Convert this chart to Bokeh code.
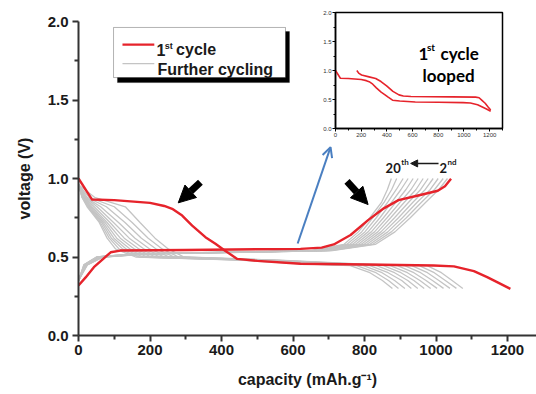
from bokeh.plotting import figure
from bokeh.models import (Label, Arrow, NormalHead, OpenHead, BoxAnnotation,
                          FixedTicker, NumeralTickFormatter)
from bokeh.embed import file_html
from bokeh.resources import INLINE

# ---------------- data ----------------
x_ticks = [0, 200, 400, 600, 800, 1000, 1200]
x_minor = [100, 300, 500, 700, 900, 1100, 1300]
y_ticks = [0.0, 0.5, 1.0, 1.5, 2.0]
y_minor = [0.25, 0.75, 1.25, 1.75]

# first cycle (red)
red_dis_cap = [0, 38, 100, 200, 240, 262, 290, 318, 355, 383, 410, 444, 500, 621, 800, 993, 1050, 1106, 1143, 1175, 1208]
red_dis_v = [1.0, 0.866, 0.862, 0.845, 0.825, 0.807, 0.764, 0.70, 0.626, 0.584, 0.54, 0.488, 0.475, 0.457, 0.452, 0.446, 0.44, 0.41, 0.372, 0.335, 0.297]
red_chg_cap = [0, 20, 43, 70, 90, 117, 300, 621, 680, 714, 761, 810, 854, 895, 947, 1005, 1025, 1042]
red_chg_v = [0.318, 0.37, 0.435, 0.49, 0.53, 0.541, 0.545, 0.552, 0.56, 0.58, 0.64, 0.735, 0.81, 0.862, 0.89, 0.922, 0.95, 0.998]

# further cycling (grey, 2nd ... 20th): capacities at common voltage levels
gray_dis_v = [0.96, 0.88, 0.82, 0.72, 0.62, 0.55, 0.50, 0.48, 0.455, 0.445, 0.40, 0.35, 0.30]
dis_c02 = [0, 45, 131, 172, 214, 252, 295, 560, 800, 975, 1015, 1045, 1075]
dis_c03 = [0, 30, 100, 150, 195, 235, 280, 550, 785, 953, 995, 1026, 1057]
dis_c04 = [0, 24, 78, 130, 176, 218, 268, 540, 770, 932, 976, 1008, 1039]
dis_c05 = [0, 20, 62, 112, 158, 200, 255, 530, 755, 912, 957, 990, 1021]
dis_c06 = [0, 18, 52, 98, 142, 184, 242, 520, 740, 892, 938, 972, 1003]
dis_c08 = [0, 16, 44, 88, 128, 170, 230, 510, 725, 872, 920, 955, 985]
dis_c10 = [0, 14, 38, 80, 117, 157, 218, 500, 710, 853, 902, 938, 967]
dis_c12 = [0, 13, 34, 74, 107, 145, 206, 490, 695, 834, 884, 921, 949]
dis_c14 = [0, 12, 31, 69, 99, 134, 194, 480, 680, 815, 866, 904, 931]
dis_c16 = [0, 11, 28, 65, 92, 124, 182, 470, 665, 797, 849, 884, 913]
dis_c18 = [0, 10, 26, 61, 86, 114, 170, 460, 650, 778, 832, 867, 895]
dis_c20 = [0, 10, 24, 58, 80, 104, 160, 450, 640, 760, 815, 850, 878]

gray_chg_v = [0.35, 0.45, 0.50, 0.52, 0.54, 0.58, 0.66, 0.75, 0.85, 0.93, 1.0]
chg_c02 = [0, 25, 70, 200, 710, 830, 885, 928, 972, 1008, 1032]
chg_c03 = [0, 24, 68, 195, 705, 822, 875, 917, 960, 996, 1020]
chg_c04 = [0, 23, 66, 190, 700, 814, 865, 906, 948, 984, 1006]
chg_c05 = [0, 22, 64, 185, 694, 806, 855, 895, 936, 970, 992]
chg_c06 = [0, 21, 62, 180, 688, 798, 846, 884, 924, 957, 978]
chg_c08 = [0, 20, 60, 175, 682, 790, 837, 873, 912, 944, 964]
chg_c10 = [0, 19, 58, 170, 676, 782, 828, 863, 900, 930, 950]
chg_c12 = [0, 18, 56, 165, 670, 774, 819, 853, 888, 916, 936]
chg_c14 = [0, 17, 54, 160, 664, 766, 810, 843, 876, 902, 922]
chg_c16 = [0, 16, 52, 155, 658, 758, 801, 833, 865, 889, 908]
chg_c18 = [0, 15, 51, 152, 654, 750, 792, 823, 855, 876, 890]
chg_c20 = [0, 15, 50, 150, 650, 742, 783, 815, 848, 864, 875]

gray_dis = [dis_c02, dis_c03, dis_c04, dis_c05, dis_c06, dis_c08, dis_c10, dis_c12, dis_c14, dis_c16, dis_c18, dis_c20]
gray_chg = [chg_c02, chg_c03, chg_c04, chg_c05, chg_c06, chg_c08, chg_c10, chg_c12, chg_c14, chg_c16, chg_c18, chg_c20]

RED = "#e6232b"
GRAY = "#c4c4c4"
BLUE = "#4a7fc1"
INK = "#1a1a1a"
FONT = "Liberation Sans"

# ---------------- main figure ----------------
p = figure(width=536, height=394, x_range=(0, 1281), y_range=(0, 2.0),
           output_backend="svg", toolbar_location=None,
           min_border_left=78, min_border_right=0, min_border_top=21, min_border_bottom=59)
p.outline_line_color = None
p.grid.visible = False
p.background_fill_color = "white"
p.border_fill_color = "white"

p.xaxis.ticker = FixedTicker(ticks=x_ticks, minor_ticks=x_minor)
p.yaxis.ticker = FixedTicker(ticks=y_ticks, minor_ticks=y_minor)
p.yaxis.formatter = NumeralTickFormatter(format="0.0")
p.xaxis.axis_label = "capacity (mAh.g\u207b\u00b9)"
p.yaxis.axis_label = "voltage (V)"
for ax in (p.xaxis, p.yaxis):
    ax.axis_line_width = 2
    ax.axis_line_color = "#333333"
    ax.major_tick_line_width = 2
    ax.major_tick_line_color = "#333333"
    ax.minor_tick_line_width = 2
    ax.minor_tick_line_color = "#333333"
    ax.major_tick_out = 6
    ax.major_tick_in = 0
    ax.minor_tick_out = 4
    ax.minor_tick_in = 0
    ax.major_label_text_font = FONT
    ax.major_label_text_font_style = "bold"
    ax.major_label_text_font_size = "15px"
    ax.major_label_text_color = INK
    ax.axis_label_text_font = FONT
    ax.axis_label_text_font_style = "bold"
    ax.axis_label_text_font_size = "16px"
    ax.axis_label_text_color = INK
p.yaxis.major_label_standoff = 4
p.xaxis.major_label_standoff = 3
p.yaxis.axis_label_standoff = 12
p.xaxis.axis_label_standoff = 13

for caps in gray_dis:
    p.line(caps, gray_dis_v, line_color=GRAY, line_width=1.3)
for caps in gray_chg:
    p.line(caps, gray_chg_v, line_color=GRAY, line_width=1.3)
p.line(red_dis_cap, red_dis_v, line_color=RED, line_width=2.4, line_join="round")
p.line(red_chg_cap, red_chg_v, line_color=RED, line_width=2.4, line_join="round")

# legend (drawn by hand for the superscript)
p.add_layout(BoxAnnotation(left=109, right=590, top=1.936, bottom=1.611,
                           fill_color="black", fill_alpha=1, line_color="black"))
p.add_layout(BoxAnnotation(left=98, right=579, top=1.962, bottom=1.643,
                           fill_color="white", fill_alpha=1, line_color="black", line_width=1))
p.add_layout(Arrow(end=None, x_start=123, y_start=1.853, x_end=212, y_end=1.853,
                   line_color=RED, line_width=2.4))
p.add_layout(Arrow(end=None, x_start=123, y_start=1.732, x_end=212, y_end=1.732,
                   line_color=GRAY, line_width=1.3))
lab = dict(text_font=FONT, text_font_style="bold", text_color=INK, text_baseline="alphabetic")
p.add_layout(Label(x=218, y=1.820, text="1", text_font_size="16px", **lab))
p.add_layout(Label(x=241, y=1.847, text="st", text_font_size="9px", **lab))
p.add_layout(Label(x=273, y=1.820, text="cycle", text_font_size="16px", **lab))
p.add_layout(Label(x=221, y=1.692, text="Further cycling", text_font_size="16px", **lab))

# black arrows
p.add_layout(Arrow(end=NormalHead(size=17, fill_color="black", line_color="black"),
                   x_start=341, y_start=0.976, x_end=279, y_end=0.845,
                   line_color="black", line_width=7))
p.add_layout(Arrow(end=NormalHead(size=17, fill_color="black", line_color="black"),
                   x_start=751, y_start=0.981, x_end=810, y_end=0.834,
                   line_color="black", line_width=7))
# blue arrow to inset
p.add_layout(Arrow(end=OpenHead(size=10, line_color=BLUE, line_width=2),
                   x_start=613, y_start=0.586, x_end=705, y_end=1.20,
                   line_color=BLUE, line_width=2))

# 20th <- 2nd
lab2 = dict(text_font="Lato", text_font_style="bold", text_color=INK, text_baseline="alphabetic")
p.add_layout(Label(x=859, y=1.070, text="20", text_font_size="13px", **lab2))
p.add_layout(Label(x=903, y=1.108, text="th", text_font_size="8px", **lab2))
p.add_layout(Arrow(end=NormalHead(size=7, fill_color=INK, line_color=INK),
                   x_start=1007, y_start=1.096, x_end=929, y_end=1.096,
                   line_color=INK, line_width=1.5))
p.add_layout(Label(x=1010, y=1.070, text="2", text_font_size="13px", **lab2))
p.add_layout(Label(x=1032, y=1.108, text="nd", text_font_size="8px", **lab2))

# ---------------- inset ----------------
q = figure(width=195, height=134, x_range=(0, 1300), y_range=(0, 2.0),
           output_backend="svg", toolbar_location=None,
           min_border_left=20, min_border_right=8, min_border_top=4, min_border_bottom=14)
q.styles = {"position": "absolute", "left": "315px", "top": "8px"}
q.grid.visible = False
q.outline_line_color = "black"
q.outline_line_width = 1.5
q.xaxis.ticker = FixedTicker(ticks=x_ticks, minor_ticks=x_minor)
q.yaxis.ticker = FixedTicker(ticks=y_ticks, minor_ticks=y_minor)
q.yaxis.formatter = NumeralTickFormatter(format="0.0")
for ax in (q.xaxis, q.yaxis):
    ax.axis_line_width = 1.5
    ax.axis_line_color = "black"
    ax.major_tick_line_color = "black"
    ax.minor_tick_line_color = "black"
    ax.major_tick_out = 3
    ax.major_tick_in = 0
    ax.minor_tick_out = 2
    ax.minor_tick_in = 0
    ax.major_label_text_font = FONT
    ax.major_label_text_font_size = "6px"
    ax.major_label_text_color = "#333333"
    ax.major_label_standoff = 1

loop_cap = [red_dis_cap[-1] - c for c in red_chg_cap]
q.line(red_dis_cap, red_dis_v, line_color=RED, line_width=1.6, line_join="round")
q.line(loop_cap, red_chg_v, line_color=RED, line_width=1.6, line_join="round")
lab3 = dict(text_font="Lato", text_font_style="bold", text_color="black", text_baseline="alphabetic")
q.add_layout(Label(x=646, y=1.293, text="1", text_font_size="17px", **lab3))
q.add_layout(Label(x=712, y=1.40, text="st", text_font_size="10px", **lab3))
q.add_layout(Label(x=817, y=1.293, text="cycle", text_font_size="17px", **lab3))
q.add_layout(Label(x=880, y=0.914, text="looped", text_font_size="17px", text_align="center", **lab3))

open("out.html", "w").write(file_html([p, q], INLINE))
